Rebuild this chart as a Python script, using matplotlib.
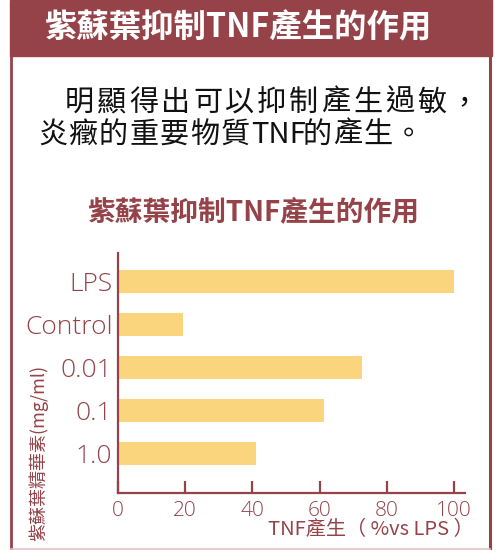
import matplotlib.pyplot as plt
from matplotlib.patches import Rectangle
from matplotlib.lines import Line2D

plt.rcParams['font.family'] = ['Noto Sans CJK TC', 'DejaVu Sans']

categories = ['LPS', 'Control', '0.01', '0.1', '1.0']
values = [100, 19.3, 72.6, 61.4, 40.9]
xticks = [0, 20, 40, 60, 80, 100]

banner_title = '紫蘇葉抑制TNF產生的作用'
chart_title = '紫蘇葉抑制TNF產生的作用'
line1 = list('明顯得出可以抑制產生過敏，')
line2 = list('炎癥的重要物質') + ['TNF'] + list('的產生。')
ylabel = '紫蘇葉精華素(mg/ml)'
xlabel = 'TNF產生（ %vs LPS ）'

maroon = '#954349'
bar_color = '#fbd57e'

W, H = 501, 550
fig = plt.figure(figsize=(W / 100, H / 100), dpi=100)

def fx(px):
    return px / W

def fy(py):
    return 1 - py / H

# frame
fig.patches.append(Rectangle((fx(10), fy(55.5)), fx(492) - fx(10), fy(0) - fy(55.5),
                             transform=fig.transFigure, color=maroon, zorder=0))
fig.lines.append(Line2D([fx(11), fx(11)], [fy(55), fy(549)], transform=fig.transFigure,
                        color=maroon, lw=2))
fig.lines.append(Line2D([fx(489.5), fx(489.5)], [fy(55), fy(549)], transform=fig.transFigure,
                        color=maroon, lw=2.2))
fig.lines.append(Line2D([fx(11), fx(489.5)], [fy(549), fy(549)], transform=fig.transFigure,
                        color='#e3c4c6', lw=1.2))

fig.text(fx(239), fy(28), banner_title, color='white', fontsize=23.3, fontweight='bold',
         ha='center', va='center')

# body text with wide letter spacing
for i, ch in enumerate(line1):
    fig.text(fx(65 + 32 * i), fy(103), ch, fontsize=21, ha='left', va='center',
             color='#111111', fontweight='medium')
x = 38
for ch in line2:
    fig.text(fx(x), fy(135), ch, fontsize=21, ha='left', va='center',
             color='#111111', fontweight='medium')
    x += 52 if ch == 'TNF' else 30.4

fig.text(fx(253), fy(212), chart_title, color=maroon, fontsize=20, fontweight='bold',
         ha='center', va='center')

ax = fig.add_axes([fx(118), fy(493), fx(465) - fx(118), fy(253) - fy(493)])
ypos = list(range(len(categories)))[::-1]
ax.barh(ypos, values, height=0.535, color=bar_color)
ax.set_xlim(0, 103.2)
ax.set_ylim(-0.907, 4.674)
ax.set_yticks(ypos)
ax.set_yticklabels(categories, family=['Open Sans', 'DejaVu Sans'], fontweight='light')
ax.set_xticks(xticks)
ax.set_xticklabels([str(t) for t in xticks], family=['Open Sans', 'DejaVu Sans'], fontweight='light')
ax.tick_params(axis='y', length=0, pad=4, labelsize=19, labelcolor=maroon)
ax.tick_params(axis='x', direction='in', length=8.5, width=1.6, color=maroon,
               pad=6, labelsize=15, labelcolor=maroon)
for s in ['top', 'right']:
    ax.spines[s].set_visible(False)
for s in ['left', 'bottom']:
    ax.spines[s].set_color(maroon)
    ax.spines[s].set_linewidth(1.6)

fig.text(fx(474), fy(530), xlabel, color=maroon, fontsize=14.5, ha='right', va='center')
fig.text(fx(38), fy(453), ylabel, color=maroon, fontsize=13, rotation=90,
         ha='center', va='center')

fig.savefig('out.png', dpi=100)
